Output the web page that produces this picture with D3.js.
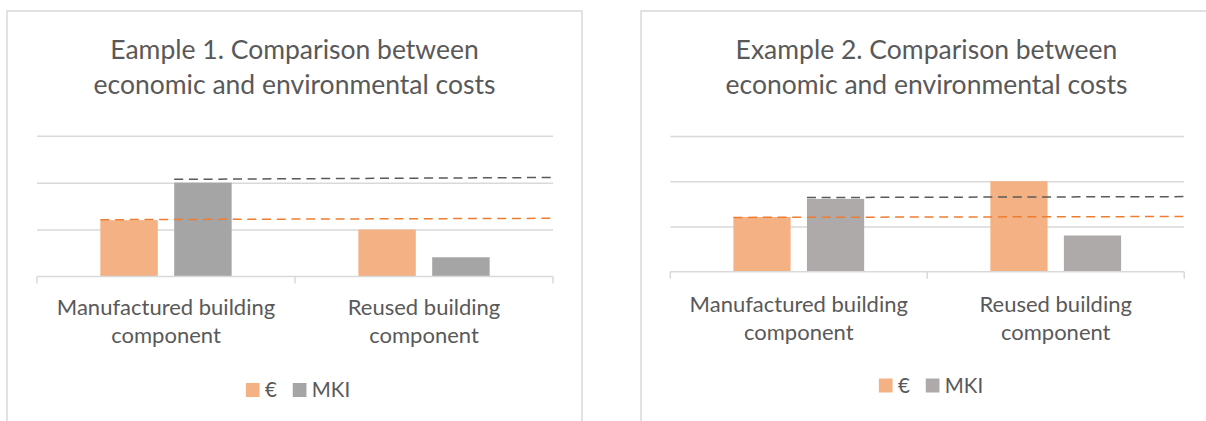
<!DOCTYPE html>
<html>
<head>
<meta charset="utf-8">
<script src="https://cdn.jsdelivr.net/npm/d3@7"></script>
<style>
  body { margin: 0; background: #fff; }
  text { font-family: Lato, "Open Sans", sans-serif; fill: #595959; }
</style>
</head>
<body>
<svg id="chart" width="1206" height="421"></svg>
<script>
// shared data
var categories = ["Manufactured building component", "Reused building component"];
var seriesNames = ["€", "MKI"];
var yTicks = [0, 1, 2, 3];

// Example 1
var ex1Title = ["Eample 1. Comparison between", "economic and environmental costs"];
var ex1Euro = [1.20, 1.00];
var ex1Mki = [2.00, 0.41];
// dashed reference lines (value at start, value at end)
var ex1EuroRef = [1.21, 1.24];
var ex1MkiRef = [2.07, 2.11];

// Example 2
var ex2Title = ["Example 2. Comparison between", "economic and environmental costs"];
var ex2Euro = [1.21, 2.00];
var ex2Mki = [1.61, 0.80];
var ex2EuroRef = [1.20, 1.22];
var ex2MkiRef = [1.64, 1.66];

var gridColor = "#D9D9D9";
var euroColor = "#F4B183";
var euroLineColor = "#ED7D31";
var mkiLineColor = "#595959";

var svg = d3.select("#chart");

function drawPanel(cfg) {
  var g = svg.append("g");

  // chart frame (cut off by the window on some sides)
  g.append("rect")
    .attr("x", cfg.frame.x)
    .attr("y", cfg.frame.y)
    .attr("width", cfg.frame.w)
    .attr("height", cfg.frame.h)
    .attr("fill", "none")
    .attr("stroke", gridColor)
    .attr("stroke-width", 1.5);

  // title
  g.append("text")
    .attr("text-anchor", "middle")
    .attr("font-size", 26.5)
    .selectAll("tspan")
    .data(cfg.title)
    .enter()
    .append("tspan")
    .attr("x", cfg.titleX)
    .attr("y", (d, i) => cfg.titleY + i * 35)
    .text(d => d);

  var x = d3.scaleBand()
    .domain(categories)
    .range([cfg.plot.left, cfg.plot.right]);

  var xSub = d3.scaleBand()
    .domain(seriesNames)
    .range([0, x.bandwidth()])
    .paddingInner(0.222)
    .paddingOuter(0.858);

  var y = d3.scaleLinear()
    .domain([0, 3])
    .range([cfg.plot.bottom, cfg.plot.top]);

  // gridlines
  var grid = g.append("g")
    .attr("transform", `translate(${cfg.plot.left},0)`)
    .call(d3.axisLeft(y)
      .tickValues(yTicks.filter(t => t > 0))
      .tickSize(-(cfg.plot.right - cfg.plot.left))
      .tickFormat(""));
  grid.select(".domain").remove();
  grid.selectAll("line")
    .attr("stroke", gridColor)
    .attr("stroke-width", 1.5);

  var rows = categories.map((c, i) => ({cat: c, values: [cfg.euro[i], cfg.mki[i]]}));
  var colors = [euroColor, cfg.mkiColor];

  // bars
  var groups = g.selectAll(".cat")
    .data(rows)
    .enter()
    .append("g")
    .attr("transform", d => `translate(${x(d.cat)},0)`);

  groups.selectAll("rect")
    .data(d => d.values.map((v, j) => ({name: seriesNames[j], value: v, color: colors[j]})))
    .enter()
    .append("rect")
    .attr("x", d => xSub(d.name))
    .attr("width", xSub.bandwidth())
    .attr("y", d => y(d.value))
    .attr("height", d => y(0) - y(d.value))
    .attr("fill", d => d.color);

  // category axis: baseline plus ticks between categories
  g.append("line")
    .attr("x1", cfg.plot.left)
    .attr("x2", cfg.plot.right)
    .attr("y1", y(0))
    .attr("y2", y(0))
    .attr("stroke", gridColor)
    .attr("stroke-width", 1.5);

  var tickXs = categories.map(c => x(c)).concat([cfg.plot.right]);
  g.selectAll(".ctick")
    .data(tickXs)
    .enter()
    .append("line")
    .attr("x1", d => d)
    .attr("x2", d => d)
    .attr("y1", y(0))
    .attr("y2", y(0) + 7)
    .attr("stroke", gridColor)
    .attr("stroke-width", 1.5);

  // category labels, last word on second line
  g.selectAll(".clabel")
    .data(categories)
    .enter()
    .append("text")
    .attr("text-anchor", "middle")
    .attr("font-size", 22)
    .each(function(c) {
      var words = c.split(" ");
      var lines = [words.slice(0, -1).join(" "), words[words.length - 1]];
      d3.select(this).selectAll("tspan")
        .data(lines)
        .enter()
        .append("tspan")
        .attr("x", x(c) + x.bandwidth() / 2)
        .attr("y", (d, i) => cfg.catY + i * 28)
        .text(d => d);
    });

  // dashed reference lines, starting at the first category's bar
  var refs = [
    {vals: cfg.euroRef, x0: x(categories[0]) + xSub(seriesNames[0]), color: euroLineColor},
    {vals: cfg.mkiRef, x0: x(categories[0]) + xSub(seriesNames[1]), color: mkiLineColor}
  ];
  g.selectAll(".ref")
    .data(refs)
    .enter()
    .append("line")
    .attr("x1", d => d.x0)
    .attr("x2", cfg.plot.right)
    .attr("y1", d => y(d.vals[0]))
    .attr("y2", d => y(d.vals[1]))
    .attr("stroke", d => d.color)
    .attr("stroke-width", 1.5)
    .attr("stroke-dasharray", "9,5.7");

  // legend
  var legend = g.append("g");
  var lx = 0;
  seriesNames.forEach(function(name, i) {
    legend.append("rect")
      .attr("x", lx)
      .attr("y", cfg.legendY - 14)
      .attr("width", 13.7)
      .attr("height", 14)
      .attr("fill", colors[i]);
    var t = legend.append("text")
      .attr("x", lx + 19)
      .attr("y", cfg.legendY)
      .attr("font-size", 20.5)
      .text(name);
    lx += 19 + t.node().getComputedTextLength() + 16;
  });
  var legendW = lx - 16;
  legend.attr("transform", `translate(${cfg.legendX - legendW / 2},0)`);
}

drawPanel({
  title: ex1Title,
  euro: ex1Euro,
  mki: ex1Mki,
  euroRef: ex1EuroRef,
  mkiRef: ex1MkiRef,
  mkiColor: "#A5A5A5",
  frame: {x: 7, y: 11, w: 575, h: 430},
  plot: {left: 37, right: 553, top: 135.7, bottom: 276.5},
  titleX: 294.5,
  titleY: 59.3,
  catY: 315,
  legendX: 298,
  legendY: 397
});

drawPanel({
  title: ex2Title,
  euro: ex2Euro,
  mki: ex2Mki,
  euroRef: ex2EuroRef,
  mkiRef: ex2MkiRef,
  mkiColor: "#AEAAAA",
  frame: {x: 641, y: 11, w: 600, h: 430},
  plot: {left: 670.3, right: 1184.2, top: 136, bottom: 271.7},
  titleX: 926.5,
  titleY: 59.3,
  catY: 311.7,
  legendX: 931,
  legendY: 392.5
});
</script>
</body>
</html>
